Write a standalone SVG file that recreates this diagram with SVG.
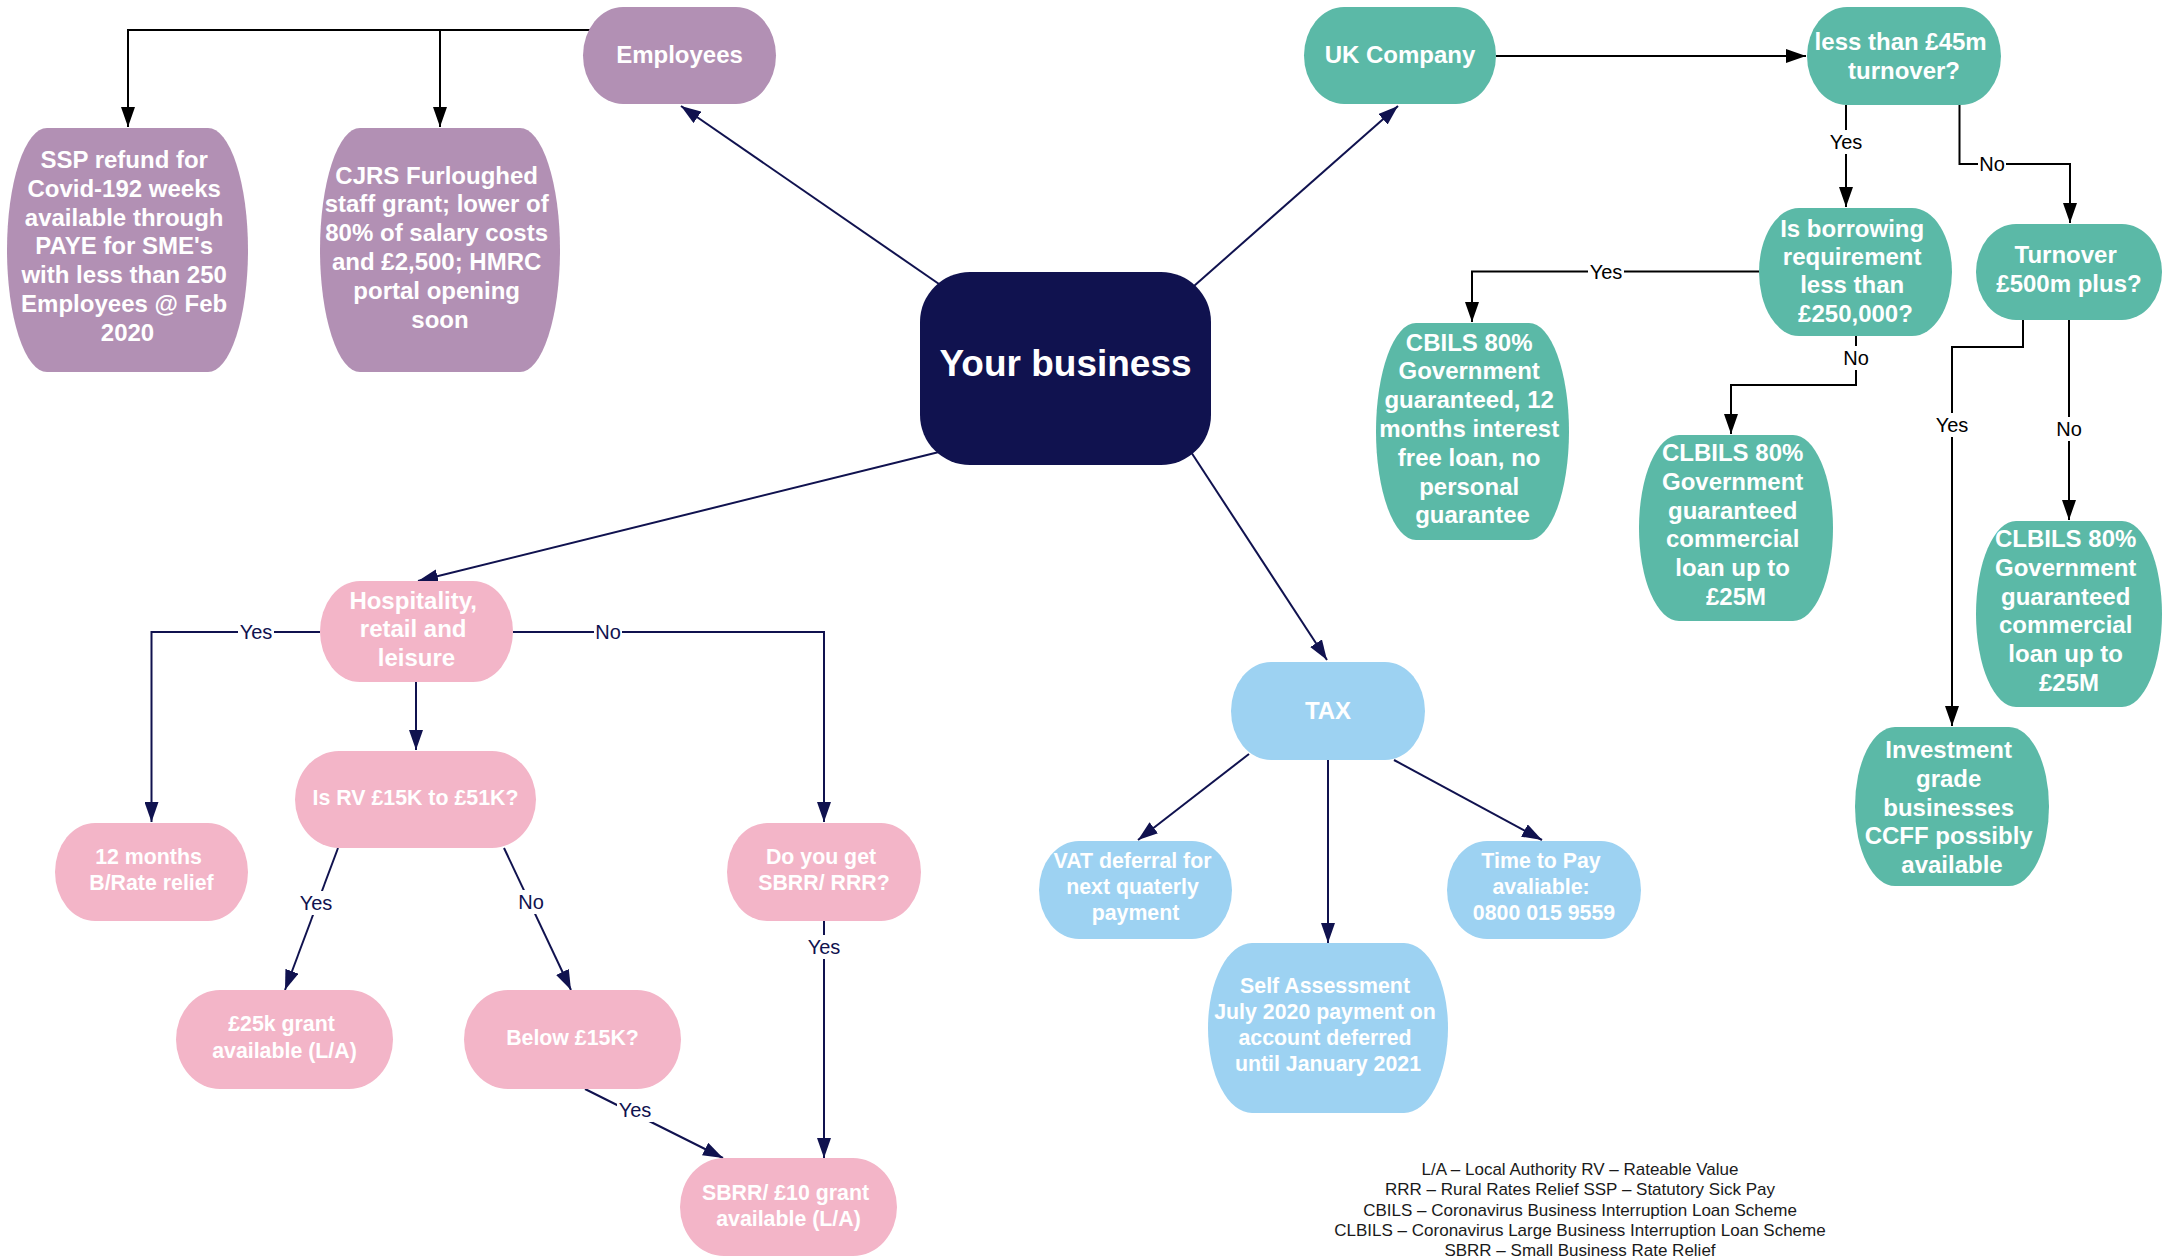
<svg xmlns="http://www.w3.org/2000/svg" width="2162" height="1256" viewBox="0 0 2162 1256">
<style>
  .node text { font-family: "Liberation Sans", Arial, sans-serif; font-weight: bold; fill: #ffffff; text-anchor: middle; }
  .t24 { font-size: 24px; }
  .t21 { font-size: 21.33px; }
  .purple rect { fill: #b290b4; }
  .teal rect { fill: #5bb9a7; }
  .pink rect { fill: #f3b5c8; }
  .blue rect { fill: #9dd2f2; }
  .navy rect { fill: #10124f; }
  .cn { fill: none; stroke: #10124f; stroke-width: 2; marker-end: url(#an); }
  .cb { fill: none; stroke: #000000; stroke-width: 2; marker-end: url(#ab); }
  .cbn { fill: none; stroke: #000000; stroke-width: 2; }
  .lbg { fill: #ffffff; }
  .lbl { font-family: "Liberation Sans", Arial, sans-serif; font-size: 20px; text-anchor: middle; }
  .ln { fill: #10124f; }
  .lb { fill: #000000; }
  .legend { font-family: "Liberation Sans", Arial, sans-serif; font-size: 17px; fill: #1a1a1a; text-anchor: middle; }
</style>
<defs>
  <marker id="an" markerUnits="userSpaceOnUse" markerWidth="20" markerHeight="14" refX="20" refY="7" orient="auto">
    <path d="M0,0 L20,7 L0,14 Z" fill="#10124f"/>
  </marker>
  <marker id="ab" markerUnits="userSpaceOnUse" markerWidth="20" markerHeight="14" refX="20" refY="7" orient="auto">
    <path d="M0,0 L20,7 L0,14 Z" fill="#000000"/>
  </marker>
</defs>
<rect x="0" y="0" width="2162" height="1256" fill="#ffffff"/>

<g id="connectors">
  <!-- from Your business -->
  <line class="cn" x1="939" y1="284" x2="681" y2="106"/>
  <line class="cn" x1="1194" y1="286" x2="1398" y2="106"/>
  <line class="cn" x1="939" y1="452" x2="418" y2="581"/>
  <line class="cn" x1="1191" y1="452" x2="1327" y2="660"/>
  <!-- TAX -->
  <line class="cn" x1="1249" y1="754" x2="1138" y2="840"/>
  <line class="cn" x1="1328" y1="760" x2="1328" y2="943"/>
  <line class="cn" x1="1394" y1="760" x2="1542" y2="840"/>
  <!-- Hospitality -->
  <path class="cn" d="M320,632 H151.5 V822"/>
  <path class="cn" d="M513,632 H824 V822"/>
  <path class="cn" d="M416,682 V750"/>
  <line class="cn" x1="338" y1="848" x2="285" y2="990"/>
  <line class="cn" x1="504" y1="848" x2="571" y2="990"/>
  <line class="cn" x1="585" y1="1089" x2="723" y2="1158"/>
  <path class="cn" d="M824,921 V1158"/>
  <!-- Employees -->
  <path class="cb" d="M590,30 H128 V127"/>
  <path class="cb" d="M440,30 V127"/>
  <!-- UK company tree -->
  <path class="cb" d="M1496,56 H1806"/>
  <path class="cb" d="M1846,105 V207"/>
  <path class="cb" d="M1959.5,105 V164 H2070 V223"/>
  <path class="cb" d="M1759,271.5 H1472 V322"/>
  <path class="cb" d="M1856,336 V385 H1731 V434"/>
  <path class="cb" d="M2023,320 V347 H1952 V726"/>
  <path class="cb" d="M2069,320 V520"/>

  <!-- labels -->
  <g>
    <rect class="lbg" x="238" y="620" width="36" height="24"/>
    <text class="lbl ln" x="256" y="639">Yes</text>
    <rect class="lbg" x="594" y="620" width="28" height="24"/>
    <text class="lbl ln" x="608" y="639">No</text>
    <rect class="lbg" x="298" y="891" width="36" height="24"/>
    <text class="lbl ln" x="316" y="910">Yes</text>
    <rect class="lbg" x="517" y="890" width="28" height="24"/>
    <text class="lbl ln" x="531" y="909">No</text>
    <rect class="lbg" x="617" y="1098" width="36" height="24"/>
    <text class="lbl ln" x="635" y="1117">Yes</text>
    <rect class="lbg" x="806" y="935" width="36" height="24"/>
    <text class="lbl ln" x="824" y="954">Yes</text>

    <rect class="lbg" x="1828" y="130" width="36" height="24"/>
    <text class="lbl lb" x="1846" y="149">Yes</text>
    <rect class="lbg" x="1978" y="152" width="28" height="24"/>
    <text class="lbl lb" x="1992" y="171">No</text>
    <rect class="lbg" x="1588" y="259.5" width="36" height="24"/>
    <text class="lbl lb" x="1606" y="278.5">Yes</text>
    <rect class="lbg" x="1842" y="346" width="28" height="24"/>
    <text class="lbl lb" x="1856" y="365">No</text>
    <rect class="lbg" x="1934" y="413" width="36" height="24"/>
    <text class="lbl lb" x="1952" y="432">Yes</text>
    <rect class="lbg" x="2055" y="417" width="28" height="24"/>
    <text class="lbl lb" x="2069" y="436">No</text>
  </g>
</g>

<g id="your-business" class="node navy">
  <rect x="920" y="272" width="291" height="193" rx="50" ry="50"/>
  <text x="1065.5" y="376" style="font-size:37px">Your business</text>
</g>

<g id="employees" class="node purple">
  <rect x="583" y="7" width="193" height="97" rx="40" ry="48.5"/>
  <text class="t24" x="679.5" y="63">Employees</text>
</g>
<g id="ssp" class="node purple">
  <rect x="7" y="128" width="241" height="244" rx="40" ry="122"/>
  <text class="t24">
    <tspan x="127.5" y="168">SSP refund for</tspan>
    <tspan x="127.5" dy="28.8">Covid-192 weeks</tspan>
    <tspan x="127.5" dy="28.8">available through</tspan>
    <tspan x="127.5" dy="28.8">PAYE for SME's</tspan>
    <tspan x="127.5" dy="28.8">with less than 250</tspan>
    <tspan x="127.5" dy="28.8">Employees @ Feb</tspan>
    <tspan x="127.5" dy="28.8">2020</tspan>
  </text>
</g>
<g id="cjrs" class="node purple">
  <rect x="320" y="128" width="240" height="244" rx="40" ry="122"/>
  <text class="t24">
    <tspan x="440" y="183.5">CJRS Furloughed</tspan>
    <tspan x="440" dy="28.8">staff grant; lower of</tspan>
    <tspan x="440" dy="28.8">80% of salary costs</tspan>
    <tspan x="440" dy="28.8">and £2,500; HMRC</tspan>
    <tspan x="440" dy="28.8">portal opening</tspan>
    <tspan x="440" dy="28.8">soon</tspan>
  </text>
</g>

<g id="uk-company" class="node teal">
  <rect x="1304" y="7" width="192" height="97" rx="40" ry="48.5"/>
  <text class="t24" x="1400" y="63">UK Company</text>
</g>
<g id="less-45m" class="node teal">
  <rect x="1807" y="7" width="194" height="98" rx="40" ry="49"/>
  <text class="t24">
    <tspan x="1904" y="50">less than £45m</tspan>
    <tspan x="1904" dy="28.8">turnover?</tspan>
  </text>
</g>
<g id="borrowing" class="node teal">
  <rect x="1759" y="208" width="193" height="128" rx="40" ry="64"/>
  <text class="t24">
    <tspan x="1855.5" y="237">Is borrowing</tspan>
    <tspan x="1855.5" dy="28.2">requirement</tspan>
    <tspan x="1855.5" dy="28.2">less than</tspan>
    <tspan x="1855.5" dy="28.2">£250,000?</tspan>
  </text>
</g>
<g id="turnover-500m" class="node teal">
  <rect x="1976" y="224" width="186" height="96" rx="40" ry="48"/>
  <text class="t24">
    <tspan x="2069" y="263">Turnover</tspan>
    <tspan x="2069" dy="28.8">£500m plus?</tspan>
  </text>
</g>
<g id="cbils" class="node teal">
  <rect x="1376" y="323" width="193" height="217" rx="40" ry="108.5"/>
  <text class="t24">
    <tspan x="1472.5" y="350.5">CBILS 80%</tspan>
    <tspan x="1472.5" dy="28.8">Government</tspan>
    <tspan x="1472.5" dy="28.8">guaranteed, 12</tspan>
    <tspan x="1472.5" dy="28.8">months interest</tspan>
    <tspan x="1472.5" dy="28.8">free loan, no</tspan>
    <tspan x="1472.5" dy="28.8">personal</tspan>
    <tspan x="1472.5" dy="28.8">guarantee</tspan>
  </text>
</g>
<g id="clbils-1" class="node teal">
  <rect x="1639" y="435" width="194" height="186" rx="40" ry="93"/>
  <text class="t24">
    <tspan x="1736" y="461">CLBILS 80%</tspan>
    <tspan x="1736" dy="28.8">Government</tspan>
    <tspan x="1736" dy="28.8">guaranteed</tspan>
    <tspan x="1736" dy="28.8">commercial</tspan>
    <tspan x="1736" dy="28.8">loan up to</tspan>
    <tspan x="1736" dy="28.8">£25M</tspan>
  </text>
</g>
<g id="clbils-2" class="node teal">
  <rect x="1976" y="521" width="186" height="186" rx="40" ry="93"/>
  <text class="t24">
    <tspan x="2069" y="547">CLBILS 80%</tspan>
    <tspan x="2069" dy="28.8">Government</tspan>
    <tspan x="2069" dy="28.8">guaranteed</tspan>
    <tspan x="2069" dy="28.8">commercial</tspan>
    <tspan x="2069" dy="28.8">loan up to</tspan>
    <tspan x="2069" dy="28.8">£25M</tspan>
  </text>
</g>
<g id="investment" class="node teal">
  <rect x="1855" y="727" width="194" height="159" rx="40" ry="79.5"/>
  <text class="t24">
    <tspan x="1952" y="758">Investment</tspan>
    <tspan x="1952" dy="28.8">grade</tspan>
    <tspan x="1952" dy="28.8">businesses</tspan>
    <tspan x="1952" dy="28.8">CCFF possibly</tspan>
    <tspan x="1952" dy="28.8">available</tspan>
  </text>
</g>

<g id="tax" class="node blue">
  <rect x="1231" y="662" width="194" height="98" rx="40" ry="49"/>
  <text class="t24" x="1328" y="719">TAX</text>
</g>
<g id="vat" class="node blue">
  <rect x="1039" y="841" width="193" height="98" rx="40" ry="49"/>
  <text class="t21">
    <tspan x="1135.5" y="868">VAT deferral for</tspan>
    <tspan x="1135.5" dy="25.8">next quaterly</tspan>
    <tspan x="1135.5" dy="25.8">payment</tspan>
  </text>
</g>
<g id="time-to-pay" class="node blue">
  <rect x="1447" y="841" width="194" height="98" rx="40" ry="49"/>
  <text class="t21">
    <tspan x="1544" y="868">Time to Pay</tspan>
    <tspan x="1544" dy="25.8">avaliable:</tspan>
    <tspan x="1544" dy="25.8">0800 015 9559</tspan>
  </text>
</g>
<g id="self-assessment" class="node blue">
  <rect x="1208" y="943" width="240" height="170" rx="44" ry="85"/>
  <text class="t21">
    <tspan x="1328" y="992.5">Self Assessment</tspan>
    <tspan x="1328" dy="26">July 2020 payment on</tspan>
    <tspan x="1328" dy="26">account deferred</tspan>
    <tspan x="1328" dy="26">until January 2021</tspan>
  </text>
</g>

<g id="hospitality" class="node pink">
  <rect x="320" y="581" width="193" height="101" rx="40" ry="50.5"/>
  <text class="t24">
    <tspan x="416.5" y="608.5">Hospitality,</tspan>
    <tspan x="416.5" dy="28.5">retail and</tspan>
    <tspan x="416.5" dy="28.5">leisure</tspan>
  </text>
</g>
<g id="is-rv" class="node pink">
  <rect x="295" y="751" width="241" height="97" rx="44" ry="48.5"/>
  <text class="t21" x="415.5" y="805">Is RV £15K to £51K?</text>
</g>
<g id="rate-relief" class="node pink">
  <rect x="55" y="823" width="193" height="98" rx="40" ry="49"/>
  <text class="t21">
    <tspan x="151.5" y="864">12 months</tspan>
    <tspan x="151.5" dy="25.6">B/Rate relief</tspan>
  </text>
</g>
<g id="do-you-get" class="node pink">
  <rect x="727" y="823" width="194" height="98" rx="40" ry="49"/>
  <text class="t21">
    <tspan x="824" y="864">Do you get</tspan>
    <tspan x="824" dy="25.6">SBRR/ RRR?</tspan>
  </text>
</g>
<g id="grant-25k" class="node pink">
  <rect x="176" y="990" width="217" height="99" rx="44" ry="49.5"/>
  <text class="t21">
    <tspan x="284.5" y="1031">£25k grant</tspan>
    <tspan x="284.5" dy="26.5">available (L/A)</tspan>
  </text>
</g>
<g id="below-15k" class="node pink">
  <rect x="464" y="990" width="217" height="99" rx="44" ry="49.5"/>
  <text class="t21" x="572.5" y="1044.5">Below £15K?</text>
</g>
<g id="sbrr-grant" class="node pink">
  <rect x="680" y="1158" width="217" height="98" rx="44" ry="49"/>
  <text class="t21">
    <tspan x="788.5" y="1200">SBRR/ £10 grant</tspan>
    <tspan x="788.5" dy="26">available (L/A)</tspan>
  </text>
</g>

<g id="legend">
  <text class="legend" x="1580" y="1175">L/A – Local Authority RV – Rateable Value</text>
  <text class="legend" x="1580" y="1195.4">RRR – Rural Rates Relief SSP – Statutory Sick Pay</text>
  <text class="legend" x="1580" y="1215.8">CBILS – Coronavirus Business Interruption Loan Scheme</text>
  <text class="legend" x="1580" y="1236.2">CLBILS – Coronavirus Large Business Interruption Loan Scheme</text>
  <text class="legend" x="1580" y="1256.3">SBRR – Small Business Rate Relief</text>
</g>
</svg>
